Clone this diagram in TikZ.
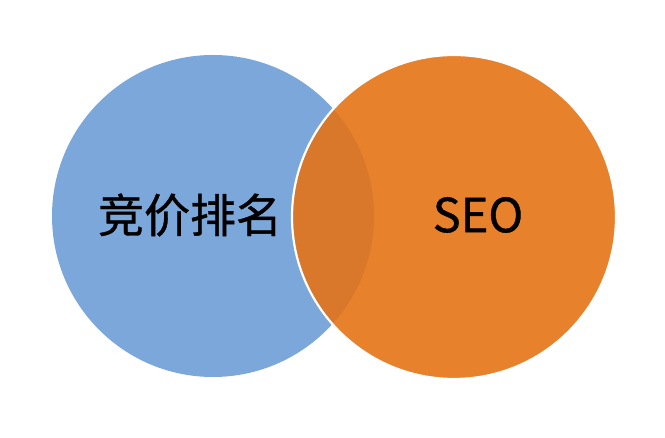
\documentclass[tikz,border=0pt]{standalone}
\usepackage{fontspec}
\setmainfont[FakeBold=0.8]{Noto Sans CJK SC}
\usepackage{tikz}
\definecolor{bidblue}{HTML}{7BA7DB}
\definecolor{seoorange}{HTML}{E8812B}
\definecolor{overlaporange}{HTML}{D9772B}

\begin{document}
\begin{tikzpicture}[x=1pt, y=1pt]
  \useasboundingbox (0,0) rectangle (665,438);

  % ---- Circles ----
  \fill[bidblue] (213,222) circle (161);
  \fill[seoorange] (454,221) circle (162);
  \begin{scope}
    \clip (213,222) circle (161);
    \fill[overlaporange] (454,221) circle (162); % overlap
  \end{scope}
  \draw[white, line width=2.2pt] (454,221) circle (162);

  % ---- Labels ----
  \node[font=\fontsize{46}{50}\selectfont, text=black] (bid) at (190,223) {竞价排名};
  \node[font=\fontsize{47}{52}\selectfont, text=black] (seo) at (478,223) {SEO};
\end{tikzpicture}
\end{document}
